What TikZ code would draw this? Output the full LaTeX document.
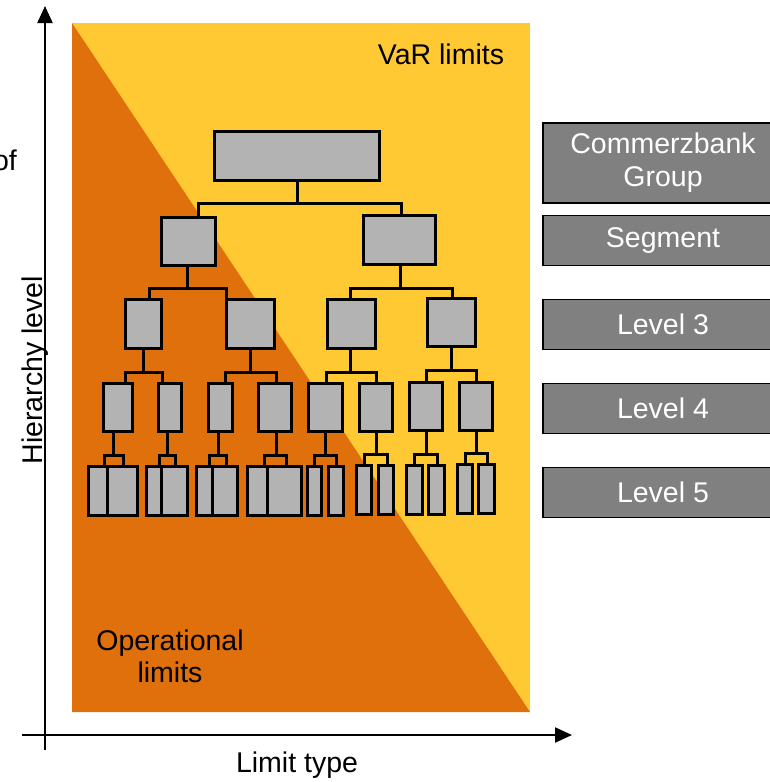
\documentclass[tikz,border=0pt]{standalone}
\usepackage{fontspec}
\setmainfont{Liberation Sans}
\usetikzlibrary{arrows.meta}
\definecolor{varyellow}{HTML}{FFC933}
\definecolor{oporange}{HTML}{E0700B}
\definecolor{boxgray}{HTML}{B3B3B3}
\definecolor{lvlgray}{HTML}{808080}
% tree box: name, x1, x2, y1, y2 (outer extents, pixels, y down)
\newcommand\tb[5]{\node[tbox, minimum width={#3-#2-3}, minimum height={#5-#4-3}] (#1) at ({(#2+#3)/2},{(#4+#5)/2}) {};}
% connector: parent, child a, child b, bar y, parent x, a x, b x
\newcommand\tconn[7]{%
  \coordinate (#1-bp) at (#5,#4);
  \coordinate (#1-bl) at (#6,#4);
  \coordinate (#1-br) at (#7,#4);
  \draw[link] (#1.south -| #1-bp) -- (#1-bp);
  \draw[link] (#2.north -| #1-bl) |- (#1-br) -- (#1-br |- #3.north);}
\begin{document}
\begin{tikzpicture}[x=1pt,y=-1pt,
  tbox/.style={draw=black, fill=boxgray, line width=3pt, inner sep=0pt, outer sep=0pt},
  link/.style={draw=black, line width=3pt},
  lvl/.style={draw=black, fill=lvlgray, line width=1.8pt, text=white, inner sep=0pt,
    minimum width=240pt, align=center, font=\fontsize{28.5}{33}\selectfont},
  txt/.style={inner sep=0pt, font=\fontsize{28.5}{32}\selectfont},
  axis/.style={draw=black, line width=2.2pt, -{Triangle[length=17pt,width=15pt]}}]
\useasboundingbox (0,0) rectangle (769,782);
% background
\fill[varyellow] (72,23) rectangle (530,712);
\fill[oporange] (72,23) -- (530,712) -- (72,712) -- cycle;
% axes
\coordinate (yb) at (45,750);
\coordinate (yt) at (45,6);
\coordinate (xl) at (22,735);
\coordinate (xr) at (572,735);
\draw[axis] (yb) -- (yt);
\draw[axis] (xl) -- (xr);
% labels
\node[txt, rotate=90] (hier) at (35,370) {Hierarchy level};
\node[txt, anchor=base east] (of) at (17,170) {of};
\node[txt] (ltype) at (297,765) {Limit type};
\node[txt] (var) at (441,54) {VaR limits};
\node[txt, align=center] (oper) at (170,656) {Operational\\limits};
% right level boxes
\node[lvl, minimum height=80pt] (cg) at (663,163) {Commerzbank\\Group};
\node[lvl, minimum height=50pt] (seg) at (663,240.5) {Segment};
\node[lvl, minimum height=50pt] (l3) at (663,324.5) {Level 3};
\node[lvl, minimum height=50pt] (l4) at (663,408.5) {Level 4};
\node[lvl, minimum height=50pt] (l5) at (663,492.5) {Level 5};
% tree level 1-2
\tb{T}{213}{381}{130}{182}
\tb{A}{160}{217}{216}{267}
\tb{B}{362}{437}{214}{266}
% level 3
\tb{A1}{124}{163}{298}{350}
\tb{A2}{225}{276}{298}{350}
\tb{B1}{326}{377}{298}{350}
\tb{B2}{426}{477}{297}{348}
% level 4
\tb{A1a}{102}{134}{382}{433}
\tb{A1b}{157}{183}{382}{433}
\tb{A2a}{207}{234}{382}{433}
\tb{A2b}{257}{293}{382}{433}
\tb{B1a}{307}{344}{382}{433}
\tb{B1b}{358}{394}{382}{433}
\tb{B2a}{408}{444}{381}{432}
\tb{B2b}{458}{494}{381}{432}
% level 5
\tb{A1aL}{87}{109}{465}{517}
\tb{A1aR}{106}{139}{465}{517}
\tb{A1bL}{145}{163}{465}{517}
\tb{A1bR}{160}{189}{465}{517}
\tb{A2aL}{195}{214}{465}{517}
\tb{A2aR}{211}{239}{465}{517}
\tb{A2bL}{246}{269}{465}{517}
\tb{A2bR}{266}{303}{465}{517}
\tb{B1aL}{306}{323}{465}{517}
\tb{B1aR}{327}{345}{465}{517}
\tb{B1bL}{355}{373}{464}{516}
\tb{B1bR}{377}{395}{464}{516}
\tb{B2aL}{405}{424}{464}{516}
\tb{B2aR}{427}{446}{464}{516}
\tb{B2bL}{456}{474}{463}{515}
\tb{B2bR}{477}{496}{463}{515}
% connectors
\tconn{T}{A}{B}{203}{297}{198}{401}
\tconn{A}{A1}{A2}{288}{187}{149}{226}
\tconn{B}{B1}{B2}{288}{400}{350}{452}
\tconn{A1}{A1a}{A1b}{372}{143}{125}{162}
\tconn{A2}{A2a}{A2b}{372}{250}{225}{276}
\tconn{B1}{B1a}{B1b}{372}{350}{326}{376}
\tconn{B2}{B2a}{B2b}{370}{451}{426}{476}
\tconn{A1a}{A1aL}{A1aR}{455}{113}{104}{123}
\tconn{A1b}{A1bL}{A1bR}{455}{167}{159}{175}
\tconn{A2a}{A2aL}{A2aR}{455}{218}{209}{226}
\tconn{A2b}{A2bL}{A2bR}{455}{276}{264}{286}
\tconn{B1a}{B1aL}{B1aR}{455}{325}{314}{336}
\tconn{B1b}{B1bL}{B1bR}{454}{376}{364}{387}
\tconn{B2a}{B2aL}{B2aR}{454}{426}{414}{437}
\tconn{B2b}{B2bL}{B2bR}{453}{476}{465}{487}
\end{tikzpicture}
\end{document}
